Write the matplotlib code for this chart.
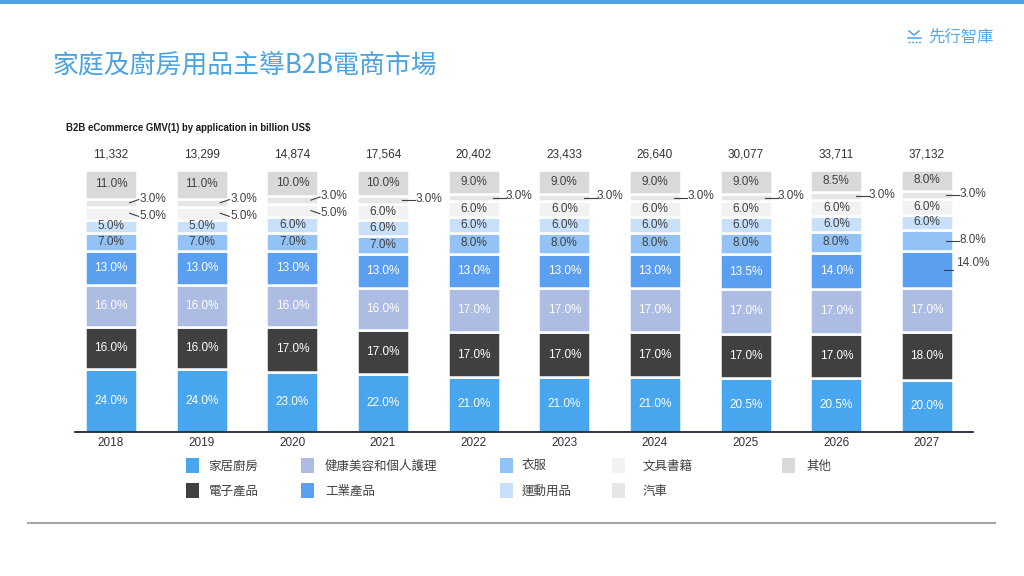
import matplotlib
matplotlib.use("Agg")
import matplotlib.pyplot as plt
from matplotlib.patches import Rectangle
from matplotlib.lines import Line2D

# ---------------- data ----------------
years = ['2018', '2019', '2020', '2021', '2022', '2023', '2024', '2025', '2026', '2027']
totals = [11332, 13299, 14874, 17564, 20402, 23433, 26640, 30077, 33711, 37132]

series_names = ['家居廚房', '電子產品', '健康美容和個人護理', '工業產品', '衣服',
                '運動用品', '文具書籍', '汽車', '其他']
home = [24.0, 24.0, 23.0, 22.0, 21.0, 21.0, 21.0, 20.5, 20.5, 20.0]
electronics = [16.0, 16.0, 17.0, 17.0, 17.0, 17.0, 17.0, 17.0, 17.0, 18.0]
beauty = [16.0, 16.0, 16.0, 16.0, 17.0, 17.0, 17.0, 17.0, 17.0, 17.0]
industrial = [13.0, 13.0, 13.0, 13.0, 13.0, 13.0, 13.0, 13.5, 14.0, 14.0]
clothing = [7.0, 7.0, 7.0, 7.0, 8.0, 8.0, 8.0, 8.0, 8.0, 8.0]
sports = [5.0, 5.0, 6.0, 6.0, 6.0, 6.0, 6.0, 6.0, 6.0, 6.0]
stationery = [5.0, 5.0, 5.0, 6.0, 6.0, 6.0, 6.0, 6.0, 6.0, 6.0]
auto = [3.0, 3.0, 3.0, 3.0, 3.0, 3.0, 3.0, 3.0, 3.0, 3.0]
other = [11.0, 11.0, 10.0, 10.0, 9.0, 9.0, 9.0, 9.0, 8.5, 8.0]

series = [home, electronics, beauty, industrial, clothing, sports, stationery, auto, other]

# ---------------- style ----------------
colors = ['#47a6ee', '#404040', '#adbce3', '#5b9ff1', '#93c3f6',
          '#c8e0fa', '#f2f2f2', '#e6e6e6', '#d9d9d9']
text_colors = ['white', 'white', 'white', 'white', '#404040',
               '#404040', '#404040', '#404040', '#404040']
# labels placed outside the bar: (series index, year index) -> style
outside = {(7, i): ('diag_up' if i < 3 else 'flat') for i in range(len(years))}
outside.update({(6, 0): 'diag_down', (6, 1): 'diag_down', (6, 2): 'diag_down',
                (4, 9): 'flat', (3, 9): 'flat_up'})

NUM = ['Liberation Sans', 'DejaVu Sans']
CJK = ['Noto Sans CJK TC', 'DejaVu Sans']

W, H = 1024, 576
fig = plt.figure(figsize=(W / 100, H / 100), dpi=100)
fig.patch.set_facecolor('white')


def fx(x):
    return x / W


def fy(y):
    return 1 - y / H


# axes: x from 75px to 973px, y baseline 432px, 100% at 170px
ax = fig.add_axes([fx(75), fy(432), (973 - 75) / W, (432 - 170) / H])
px_per_unit = (927 - 111) / 9
ax.set_xlim(-(111 - 75) / px_per_unit, 9 + (973 - 927) / px_per_unit)
ax.set_ylim(0, 100)

x = list(range(len(years)))
bw = 0.57
bottoms = [0.0] * len(years)
for si, vals in enumerate(series):
    ax.bar(x, vals, width=bw, bottom=bottoms, color=colors[si],
           edgecolor='white', linewidth=1.8, label=series_names[si], zorder=2)
    for i, v in enumerate(vals):
        yc = bottoms[i] + v / 2
        txt = f'{v:.1f}%'
        right = x[i] + bw / 2
        key = (si, i)
        if key in outside:
            style = outside[key]
            if style == 'diag_up':
                ax.plot([right - 0.08, right + 0.02], [yc, yc + 1.2],
                        color='#404040', lw=0.8, zorder=3, clip_on=False)
                ax.text(right + 0.03, yc + 1.6, txt, ha='left', va='center',
                        fontsize=8.5, color='#404040', family=NUM, clip_on=False)
            elif style == 'diag_down':
                ax.plot([right - 0.08, right + 0.02], [yc, yc - 1.2],
                        color='#404040', lw=0.8, zorder=3, clip_on=False)
                ax.text(right + 0.03, yc - 1.0, txt, ha='left', va='center',
                        fontsize=8.5, color='#404040', family=NUM, clip_on=False)
            elif style == 'flat':
                ax.plot([right - 0.07, right + 0.07], [yc, yc],
                        color='#404040', lw=0.8, zorder=3, clip_on=False)
                ax.text(right + 0.07, yc + 0.4, txt, ha='left', va='center',
                        fontsize=8.5, color='#404040', family=NUM, clip_on=False)
            else:  # flat_up
                ax.plot([right - 0.1, right + 0.0], [yc, yc],
                        color='#404040', lw=0.8, zorder=3, clip_on=False)
                ax.text(right + 0.04, yc + 2.6, txt, ha='left', va='center',
                        fontsize=8.5, color='#404040', family=NUM, clip_on=False)
        else:
            ax.text(x[i], yc, txt, ha='center', va='center', fontsize=8.5,
                    color=text_colors[si], family=NUM, zorder=4)
    bottoms = [b + v for b, v in zip(bottoms, vals)]

for i, t in enumerate(totals):
    ax.text(x[i], 105.8, f'{t:,}', ha='center', va='center', fontsize=8.5,
            color='#333333', family=NUM, clip_on=False)

ax.set_xticks(x)
ax.set_xticklabels(years, fontsize=8.5, color='#333333', family=NUM)
ax.tick_params(axis='x', length=0, pad=3.5)
ax.set_yticks([])
for s in ['left', 'right', 'top']:
    ax.spines[s].set_visible(False)
ax.spines['bottom'].set_color('#1b2735')
ax.spines['bottom'].set_linewidth(1.3)
ax.spines['bottom'].set_zorder(5)
ax.set_facecolor('none')

# ---------------- legend (manual) ----------------
sq_x = [186, 301, 500, 612, 782]
tx_x = [208, 325, 522, 643, 806]
row_y = [466, 491]
for si, name in enumerate(series_names):
    col, row = si // 2, si % 2
    yc = row_y[row]
    fig.add_artist(Rectangle((fx(sq_x[col]), fy(yc + 7)), 13 / W, 15 / H,
                             transform=fig.transFigure, facecolor=colors[si],
                             edgecolor='none'))
    fig.text(fx(tx_x[col]), fy(yc), name, fontsize=9, color='#404040',
             family=CJK, va='center', ha='left')

# ---------------- decorations ----------------
fig.add_artist(Rectangle((0, fy(4)), 1, 4 / H, transform=fig.transFigure,
                         facecolor='#4da3e8', edgecolor='none'))
fig.add_artist(Line2D([fx(28), fx(995)], [fy(523), fy(523)],
                      transform=fig.transFigure, color='#a6a6a6', lw=1.5))

fig.text(fx(52), fy(65), '家庭及廚房用品主導B2B電商市場', fontsize=18.6,
         color='#4aa3e2', family=CJK, va='center', ha='left')
fig.text(fx(66), fy(128), 'B2B eCommerce GMV(1) by application in billion US$',
         fontsize=6.9, fontweight='bold', color='#1a1a1a',
         family=['Liberation Sans', 'DejaVu Sans'],
         va='center', ha='left')

# logo
fig.text(fx(928), fy(37), '先行智庫', fontsize=11.8, color='#5aa9e6',
         family=CJK, va='center', ha='left')
logo_c = '#5aa9e6'
fig.add_artist(Line2D([fx(909), fx(914), fx(919)], [fy(31), fy(35), fy(31)],
                      transform=fig.transFigure, color=logo_c, lw=1.2))
fig.add_artist(Line2D([fx(908), fx(921)], [fy(38), fy(38)],
                      transform=fig.transFigure, color=logo_c, lw=1.2))
fig.add_artist(Line2D([fx(908), fx(921)], [fy(42), fy(42)],
                      transform=fig.transFigure, color=logo_c, lw=1.0,
                      linestyle=(0, (1.5, 1))))

fig.savefig('out.png', dpi=100, facecolor='white')
